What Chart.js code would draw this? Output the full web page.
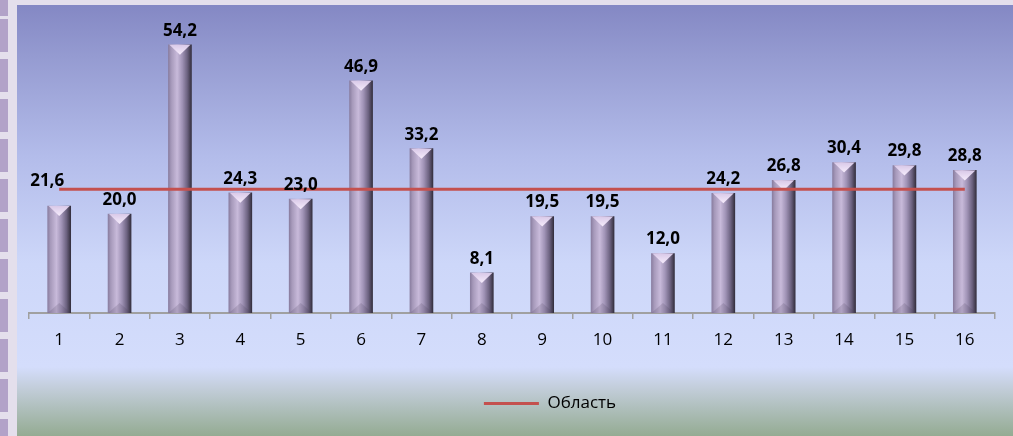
<!DOCTYPE html>
<html>
<head>
<meta charset="utf-8">
<script src="https://cdn.jsdelivr.net/npm/chart.js@4/dist/chart.umd.min.js"></script>
<style>
  html, body { margin: 0; padding: 0; }
  body { width: 1013px; height: 436px; background: #e4dfec; position: relative; overflow: hidden; }
  #strip {
    position: absolute; left: 0; top: 0; width: 8px; height: 436px;
    background: repeating-linear-gradient(to bottom, #b2a2c8 0px, #b2a2c8 33px, transparent 33px, transparent 40px);
    background-position: 0 19px;
  }
  #box {
    position: absolute; left: 17px; top: 5px; width: 996px; height: 431px;
    background: linear-gradient(to bottom, #8488c4 0%, #959bd1 12%, #b3bcea 35%, #cdd7f9 60%, #d4ddfc 84%, #c2cdd9 89%, #94ab92 100%);
  }
</style>
</head>
<body>
<div id="strip"></div>
<div id="box"><canvas id="myChart" width="996" height="431"></canvas></div>
<script>
const categories = ["1", "2", "3", "4", "5", "6", "7", "8", "9", "10", "11", "12", "13", "14", "15", "16"];
const values = [21.6, 20.0, 54.2, 24.3, 23.0, 46.9, 33.2, 8.1, 19.5, 19.5, 12.0, 24.2, 26.8, 30.4, 29.8, 28.8];
const regionAvg = [25.0, 25.0, 25.0, 25.0, 25.0, 25.0, 25.0, 25.0, 25.0, 25.0, 25.0, 25.0, 25.0, 25.0, 25.0, 25.0];
const seriesName = "Область";

const FONT = "'Open Sans', sans-serif";
const BAR_W = 23;

const ctx = document.getElementById("myChart").getContext("2d");

// horizontal shading across each bar to get the cylinder-ish look
const barFill = (c) => {
  const chart = c.chart;
  const x = chart.scales.x.getPixelForValue(c.dataIndex);
  if (!chart.ctx || isNaN(x)) return "#a898bc";
  const g = chart.ctx.createLinearGradient(x - BAR_W / 2, 0, x + BAR_W / 2, 0);
  g.addColorStop(0, "#8a7ea0");
  g.addColorStop(0.12, "#a699ba");
  g.addColorStop(0.38, "#c8bada");
  g.addColorStop(0.6, "#a093b6");
  g.addColorStop(0.82, "#6c6280");
  g.addColorStop(1, "#35303f");
  return g;
};

const bevels = {
  id: "bevels",
  afterDatasetDraw(chart, args) {
    if (args.index !== 1) return;
    const c = chart.ctx;
    args.meta.data.forEach((bar) => {
      const l = bar.x - bar.width / 2, r = bar.x + bar.width / 2;
      const t = bar.y, b = bar.base;
      const d = Math.min(10, (b - t) / 2);
      c.save();
      // top light triangle
      const g = c.createLinearGradient(0, t, 0, t + d);
      g.addColorStop(0, "#d9c9e8");
      g.addColorStop(1, "#f6ecfc");
      c.fillStyle = g;
      c.beginPath();
      c.moveTo(l + 1, t);
      c.lineTo(r - 1, t);
      c.lineTo(bar.x, t + d);
      c.closePath();
      c.fill();
      // bottom shadowed part
      c.fillStyle = "rgba(70,60,90,0.18)";
      c.beginPath();
      c.moveTo(l, b);
      c.lineTo(r, b);
      c.lineTo(bar.x, b - d);
      c.closePath();
      c.fill();
      c.restore();
    });
  },
};

const valueLabels = {
  id: "valueLabels",
  afterDatasetsDraw(chart) {
    const meta = chart.getDatasetMeta(1);
    const c = chart.ctx;
    c.save();
    c.font = "bold 17px " + FONT;
    c.fillStyle = "#000";
    c.textAlign = "center";
    c.textBaseline = "middle";
    meta.data.forEach((bar, i) => {
      const txt = values[i].toFixed(1).replace(".", ",");
      // first label was nudged off the bar in the original
      const dx = i === 0 ? -12 : 0;
      const dy = i === 0 ? -25 : -14;
      c.fillText(txt, bar.x + dx, bar.y + dy);
    });
    c.restore();
  },
};

// legend sits a bit right of centre in the original
const legendShift = {
  id: "legendShift",
  afterLayout(chart) {
    chart.legend.left += 38;
    chart.legend.right += 38;
  },
};

const myChart = new Chart(ctx, {
  data: {
    labels: categories,
    datasets: [
      {
        type: "line",
        label: seriesName,
        data: regionAvg,
        borderColor: "#c4504e",
        backgroundColor: "#c4504e",
        borderWidth: 3,
        pointRadius: 0,
        order: 0,
      },
      {
        type: "bar",
        label: "values",
        data: values,
        backgroundColor: barFill,
        barThickness: BAR_W,
        order: 1,
      },
    ],
  },
  options: {
    responsive: false,
    animation: false,
    layout: { padding: { left: 12, right: 18, top: 11, bottom: 14 } },
    scales: {
      x: {
        offset: true,
        grid: { display: true, drawOnChartArea: false, tickLength: 6, color: "#a0a0a0", lineWidth: 1.5, offset: true },
        border: { color: "#a0a0a0", width: 2 },
        ticks: { color: "#000", font: { family: FONT, size: 17 }, padding: 11 },
        afterFit: (axis) => { axis.height = 72; },
      },
      y: {
        display: false,
        min: 0,
        max: 60,
      },
    },
    plugins: {
      tooltip: { enabled: false },
      legend: {
        position: "bottom",
        labels: {
          color: "#000",
          font: { family: FONT, size: 17 },
          boxWidth: 55,
          boxHeight: 3,
          generateLabels: (chart) =>
            Chart.defaults.plugins.legend.labels.generateLabels(chart)
              .filter((it) => it.datasetIndex === 0)
              .map((it) => Object.assign(it, { lineWidth: 0, fillStyle: "#c4504e" })),
        },
      },
    },
  },
  plugins: [bevels, valueLabels, legendShift],
});
</script>
</body>
</html>
